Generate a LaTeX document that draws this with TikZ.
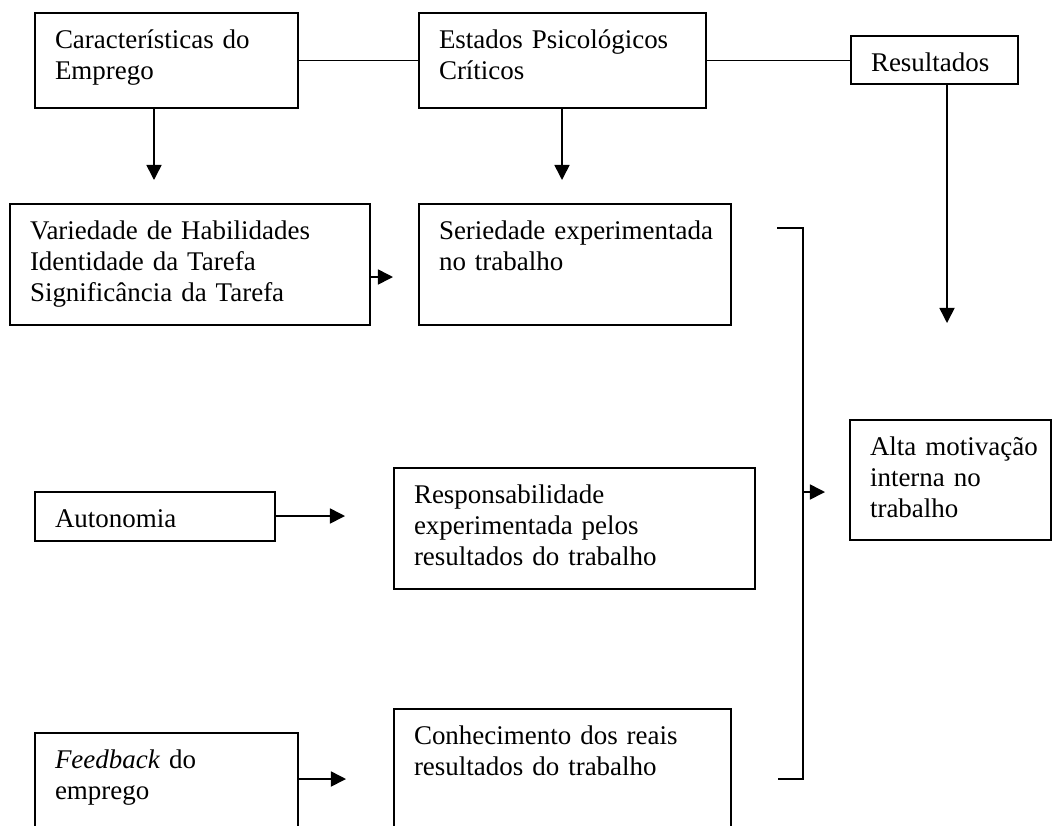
\documentclass[tikz,border=0pt]{standalone}
\usepackage{fontspec}
\setmainfont{Liberation Serif}
\usetikzlibrary{arrows.meta}

\tikzset{
  caixa/.style={draw, line width=0.9pt, anchor=north west, align=left,
    inner xsep=8.9pt, inner ysep=0pt, text height=15.8pt,
    font=\fontsize{12}{13.8}\selectfont},
  linha/.style={line width=0.7pt},
  seta/.style={line width=0.7pt, -{Triangle[length=6.7pt,width=6.7pt]}},
}

\begin{document}
\begin{tikzpicture}[x=0.445pt, y=-0.445pt]
            \useasboundingbox (0,0) rectangle (1053,825);
            \clip (0,0) rectangle (1053,825);
            % linha de cima
            \node[caixa, text width=99.2pt, text depth=26.5pt](emprego) at (34, 12) {Características do\\Emprego};
            \node[caixa, text width=109.9pt, text depth=26.5pt](estados) at (418, 12) {Estados Psicológicos\\Críticos};
            \node[caixa, text width=56.5pt, text depth=5.6pt](resultados) at (850, 35) {Resultados};
            \draw[linha] (emprego) -- (estados);
            \draw[linha] (estados.east) -- (estados.east -| resultados.west);
            \coordinate (ponta1) at (154, 180);
            \coordinate (ponta2) at (562, 180);
            \coordinate (ponta3) at (947, 323);
            \draw[seta] (emprego.south -| ponta1) -- (ponta1);
            \draw[seta] (estados.south -| ponta2) -- (ponta2);
            \draw[seta] (resultados.south -| ponta3) -- (ponta3);
            % caracteristicas
            \node[caixa, text width=142.4pt, text depth=38pt](variedade) at (9, 203) {Variedade de Habilidades\\Identidade da Tarefa\\Significância da Tarefa};
            \node[caixa, text width=89pt, text depth=6pt](autonomia) at (34, 491) {Autonomia};
            \node[caixa, text width=99.2pt, text depth=42.1pt](feedback) at (34, 732) {\textit{Feedback} do\\emprego};
            % estados
            \node[caixa, text width=121pt, text depth=38pt](seriedade) at (418, 203) {\mbox{Seriedade experimentada}\\no trabalho};
            \node[caixa, text width=142.8pt, text depth=38pt](responsab) at (393, 467) {Responsabilidade\\experimentada pelos\\resultados do trabalho};
            \node[caixa, text width=132.2pt, text depth=42.1pt](conhecimento) at (393, 708) {Conhecimento dos reais\\resultados do trabalho};
            \coordinate (ponta4) at (393, 277);
            \coordinate (ponta5) at (345, 516);
            \coordinate (ponta6) at (346, 779);
            \draw[seta] (variedade.east |- ponta4) -- (ponta4);
            \draw[seta] (autonomia.east |- ponta5) -- (ponta5);
            \draw[seta] (feedback.east |- ponta6) -- (ponta6);
            % resultado
            \node[caixa, text width=71.6pt, text depth=37.6pt](alta) at (849, 419) {\mbox{Alta motivação}\\interna no\\trabalho};
            \coordinate (chave1) at (777, 228);
            \coordinate (chave2) at (778, 779);
            \coordinate (meio) at (803, 492);
            \coordinate (ponta7) at (825, 492);
            \draw[linha] (chave1) -| (meio) |- (chave2);
            \draw[seta] (meio) -- (ponta7);
\end{tikzpicture}
\end{document}
